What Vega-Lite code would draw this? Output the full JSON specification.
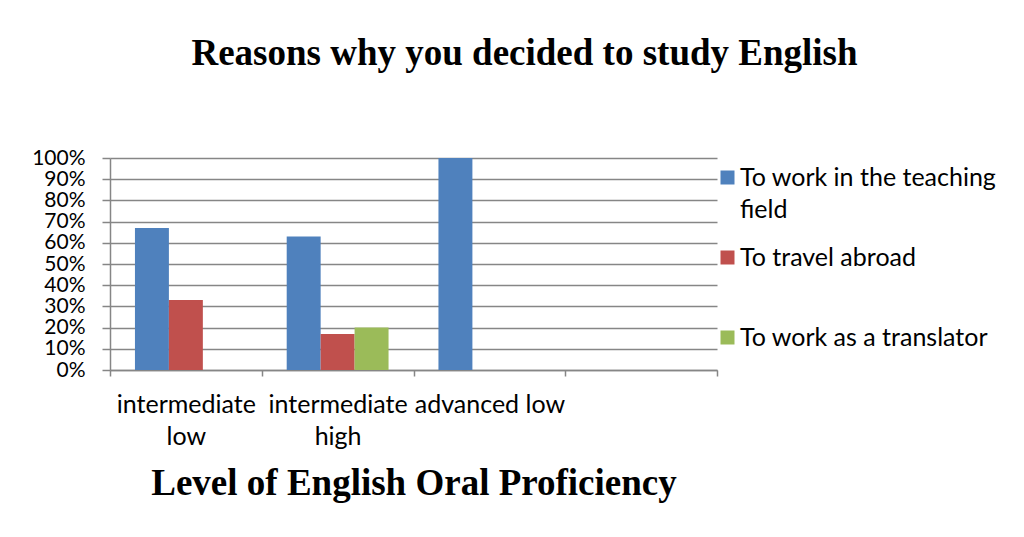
{
  "$schema": "https://vega.github.io/schema/vega-lite/v6.json",
  "autosize": "none",
  "width": 607,
  "height": 212,
  "padding": {"left": 110, "top": 158, "right": 307, "bottom": 167},
  "background": "white",
  "title": {
    "text": "Reasons why you decided to study English",
    "font": "Liberation Serif",
    "fontSize": 37,
    "fontWeight": "bold",
    "color": "black",
    "anchor": "middle",
    "dx": 111,
    "offset": 74
  },
  "data": {
    "values": [
      {"level": "intermediate low", "reason": "To work in the teaching field", "pct": 0.67},
      {"level": "intermediate low", "reason": "To travel abroad", "pct": 0.33},
      {"level": "intermediate low", "reason": "To work as a translator", "pct": 0},
      {"level": "intermediate high", "reason": "To work in the teaching field", "pct": 0.63},
      {"level": "intermediate high", "reason": "To travel abroad", "pct": 0.17},
      {"level": "intermediate high", "reason": "To work as a translator", "pct": 0.20},
      {"level": "advanced low", "reason": "To work in the teaching field", "pct": 1.0},
      {"level": "advanced low", "reason": "To travel abroad", "pct": 0},
      {"level": "advanced low", "reason": "To work as a translator", "pct": 0}
    ]
  },
  "mark": {"type": "bar"},
  "encoding": {
    "x": {
      "field": "level",
      "type": "nominal",
      "sort": null,
      "scale": {
        "domain": ["intermediate low", "intermediate high", "advanced low", " "],
        "paddingInner": 0,
        "paddingOuter": 0
      },
      "axis": {
        "title": "Level of English Oral Proficiency",
        "titleFont": "Liberation Serif",
        "titleFontSize": 37,
        "titleFontWeight": "bold",
        "titleColor": "black",
        "titlePadding": 16,
        "labelAngle": 0,
        "labelFont": "Lato",
        "labelFontSize": 25,
        "labelColor": "black",
        "labelPadding": 16,
        "labelLineHeight": 32,
        "labelOverlap": false,
        "labelExpr": "datum.label == 'intermediate low' ? ['intermediate', 'low'] : datum.label == 'intermediate high' ? ['intermediate', 'high'] : datum.label",
        "tickBand": "extent",
        "tickSize": 6,
        "tickColor": "#868686",
        "tickWidth": 1.5,
        "domainColor": "#868686",
        "domainWidth": 1.5,
        "grid": false
      }
    },
    "xOffset": {
      "field": "reason",
      "type": "nominal",
      "sort": null,
      "scale": {
        "domain": ["To work in the teaching field", "To travel abroad", "To work as a translator"],
        "paddingInner": 0,
        "paddingOuter": 0.735
      }
    },
    "y": {
      "field": "pct",
      "type": "quantitative",
      "scale": {"domain": [0, 1], "nice": false},
      "axis": {
        "title": null,
        "values": [0, 0.1, 0.2, 0.3, 0.4, 0.5, 0.6, 0.7, 0.8, 0.9, 1],
        "format": ".0%",
        "labelFont": "Lato",
        "labelFontSize": 21,
        "labelColor": "black",
        "labelPadding": 17,
        "labelOverlap": false,
        "labelBound": false,
        "labelFlush": false,
        "tickSize": 8,
        "tickColor": "#868686",
        "tickWidth": 1.5,
        "domainColor": "#868686",
        "domainWidth": 1.5,
        "grid": true,
        "gridColor": "#868686",
        "gridWidth": 1.5
      }
    },
    "color": {
      "field": "reason",
      "type": "nominal",
      "sort": null,
      "scale": {
        "domain": ["To work in the teaching field", "To travel abroad", "To work as a translator"],
        "range": ["#4F81BD", "#C0504D", "#9BBB59"]
      },
      "legend": {
        "title": null,
        "orient": "none",
        "legendX": 605,
        "legendY": 7,
        "padding": 0,
        "symbolType": "square",
        "symbolSize": 196,
        "symbolStrokeWidth": 0,
        "labelFont": "Lato",
        "labelFontSize": 25,
        "labelColor": "black",
        "labelLimit": 400,
        "labelOffset": 0,
        "rowPadding": 22,
        "labelExpr": "datum.label == 'To work in the teaching field' ? ['To work in the teaching', 'field'] : [datum.label, '']",
        "encode": {"labels": {"update": {"lineHeight": {"value": 32}}}}
      }
    }
  },
  "config": {
    "view": {"stroke": null}
  }
}
